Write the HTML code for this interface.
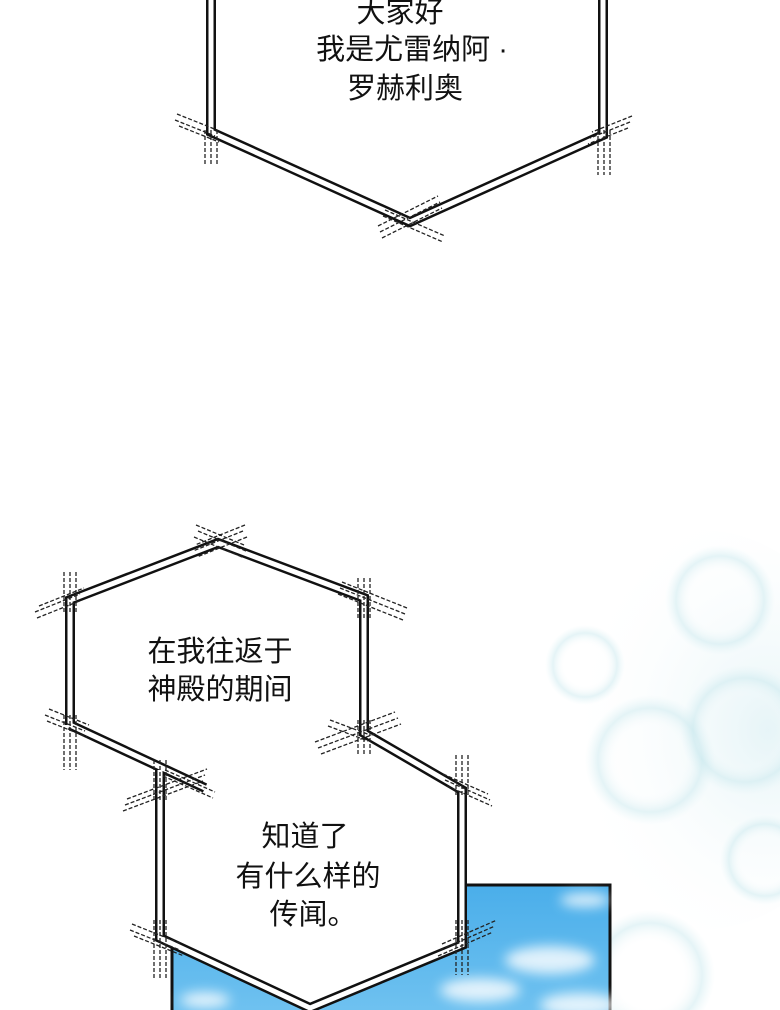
<!DOCTYPE html>
<html><head><meta charset="utf-8"><style>
html,body{margin:0;padding:0;background:#fff;}
body{width:780px;height:1010px;overflow:hidden;position:relative;}
svg{position:absolute;left:0;top:0;}
.t{font-family:"Liberation Sans","Noto Sans CJK SC",sans-serif;font-size:29px;fill:#111;text-anchor:middle;}
</style></head><body>
<svg width="780" height="1010" viewBox="0 0 780 1010">
<defs>
<radialGradient id="bub" cx="50%" cy="50%" r="50%">
<stop offset="0.5" stop-color="#fff" stop-opacity="0"/>
<stop offset="0.8" stop-color="#c4e6ec" stop-opacity="0.45"/>
<stop offset="1" stop-color="#d8f0f4" stop-opacity="0"/>
</radialGradient>
<radialGradient id="haze" cx="70%" cy="50%" r="60%">
<stop offset="0" stop-color="#dcf0f4" stop-opacity="0.7"/>
<stop offset="1" stop-color="#fff" stop-opacity="0"/>
</radialGradient>
<linearGradient id="sky" x1="0" y1="0" x2="0" y2="1">
<stop offset="0" stop-color="#4aaeea"/><stop offset="1" stop-color="#70c2f0"/>
</linearGradient>
<filter id="blur"><feGaussianBlur stdDeviation="6"/></filter>
</defs>
<!-- bubbles -->
<ellipse cx="700" cy="730" rx="170" ry="200" fill="url(#haze)"/>
<g>
<circle cx="650" cy="760" r="65" fill="url(#bub)"/>
<circle cx="745" cy="730" r="65" fill="url(#bub)"/>
<circle cx="585" cy="665" r="40" fill="url(#bub)"/>
<circle cx="720" cy="600" r="55" fill="url(#bub)"/>
<circle cx="650" cy="975" r="65" fill="url(#bub)"/>
<circle cx="765" cy="860" r="45" fill="url(#bub)"/>
</g>
<!-- sky panel -->
<rect x="172" y="885" width="438" height="130" fill="url(#sky)" stroke="#111" stroke-width="3"/>
<g fill="#fff" opacity="0.8" filter="url(#blur)">
<ellipse cx="585" cy="900" rx="25" ry="7"/>
<ellipse cx="550" cy="960" rx="45" ry="14"/>
<ellipse cx="480" cy="990" rx="40" ry="12"/>
<ellipse cx="580" cy="1005" rx="40" ry="12"/>
<ellipse cx="205" cy="1000" rx="25" ry="8"/>
</g>
<!-- shapes fills -->
<polygon points="208,0 603,0 603,135 410,222 209,130" fill="#fff"/>
<polygon points="218,543 364,598 364,733 462,790 462,945 310,1008 160,938 160,778 70,725 70,600" fill="#fff"/>
<!-- double outlines -->
<g fill="none" stroke-linejoin="miter">
<g stroke="#111" stroke-width="10">
<polyline points="211,0 211,132 410,222 603,135 603,0"/>
<polyline points="70,725 70,600 218,543 364,598 364,733 462,790 462,945 310,1008 160,938 160,770"/>
<polyline points="70,725 205,788"/>
</g>
<g stroke="#fff" stroke-width="5">
<polyline points="211,0 211,132 410,222 603,135 603,0"/>
<polyline points="70,725 70,600 218,543 364,598 364,733 462,790 462,945 310,1008 160,938 160,770"/>
<polyline points="70,725 205,788"/>
</g>
</g>
<!-- dashed extensions -->
<g stroke="#222" stroke-width="1.3" stroke-dasharray="4,2" fill="none">
<path d="M205,130v35M211,130v35M217,130v35 M598,130v45M604,130v45M610,130v45"/>
<path d="M175,120l40,16M177,114l40,16M179,126l40,16 M630,122l-40,16M628,128l-40,16M632,116l-40,16"/>
<path d="M380,232l60,-30M382,238l60,-30M378,226l60,-30 M385,210l60,26M383,216l60,26"/>
<path d="M196,525l48,20M198,531l48,20M194,537l48,20 M245,525l-50,20M243,531l-50,20M247,537l-50,20"/>
<path d="M64,572v40M70,572v40M76,572v40 M64,715v55M70,715v55M76,715v55"/>
<path d="M35,612l45,-18M37,618l45,-18M39,606l45,-18 M45,715l40,16M47,721l40,16M49,709l40,16"/>
<path d="M358,578v40M364,578v40M370,578v40 M358,720v35M364,720v35M370,720v35"/>
<path d="M340,588l65,26M338,594l65,26M342,582l65,26"/>
<path d="M315,742l80,-30M318,748l80,-30M321,754l80,-30 M330,720l40,15M328,726l40,15"/>
<path d="M125,805l80,-30M123,811l80,-30M127,799l80,-30 M165,770l50,22M163,776l50,22"/>
<path d="M154,760v40M160,760v40M166,760v40 M154,920v60M160,920v60M166,920v60"/>
<path d="M130,930l50,20M132,924l50,20M134,936l50,20"/>
<path d="M456,755v40M462,755v40M468,755v40 M456,920v55M462,920v55M468,920v55"/>
<path d="M445,780l45,20M447,786l45,20M443,774l45,20 M440,950l55,-24M438,956l55,-24M442,944l55,-24"/>
</g>
<!-- text -->
<text class="t" x="400" y="22">大家好</text>
<text class="t" x="412" y="59">我是尤雷纳阿 ·</text>
<text class="t" x="405" y="98">罗赫利奥</text>
<text class="t" x="220" y="661">在我往返于</text>
<text class="t" x="220" y="699">神殿的期间</text>
<text class="t" x="305" y="846">知道了</text>
<text class="t" x="308" y="886">有什么样的</text>
<text class="t" x="313" y="924">传闻。</text>
</svg>
</body></html>
